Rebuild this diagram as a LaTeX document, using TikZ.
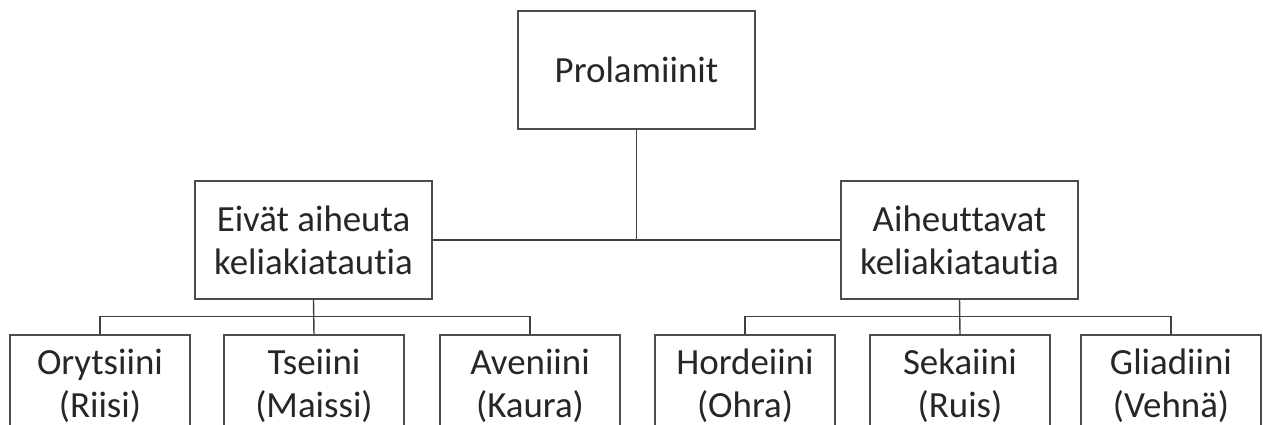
\documentclass[tikz,border=0pt]{standalone}
\usepackage{fontspec}
\setmainfont[Ligatures=NoCommon]{Carlito}
\begin{document}
\begin{tikzpicture}[x=0.02cm,y=-0.02cm,
    box/.style={draw=black!70,line width=0.8pt,minimum width=4.74cm,minimum height=2.36cm,
      align=center,inner sep=0pt,text=black!85,font=\fontsize{21}{24.5}\selectfont},
    leaf/.style={box,minimum width=3.6cm,minimum height=2.04cm},
    conn/.style={draw=black!75,line width=0.8pt}]
  \useasboundingbox (0,0) rectangle (1263,425);
  \clip (0,0) rectangle (1263,425);
  \node[box] (prol) at (636.5,70) {Prolamiinit};
  \node[box] (eivat) at (313.5,240) {Eivät aiheuta\\keliakiatautia};
  \node[box] (aiheut) at (959.5,240) {Aiheuttavat\\keliakiatautia};
  \foreach \n/\x/\t in {ory/100/{Orytsiini\\(Riisi)},tse/314/{Tseiini\\(Maissi)},ave/530/{Aveniini\\(Kaura)},
      hor/745/{Hordeiini\\(Ohra)},sek/960/{Sekaiini\\(Ruis)},gli/1171/{Gliadiini\\(Vehnä)}} {
    \node[leaf] (\n) at (\x,386) {\t};
  }
  \draw[conn] (prol.south) -- (prol.south |- eivat.east);
  \draw[conn] (eivat.east) -- (aiheut.west);
  \draw[conn] (eivat.south) -- (tse.north);
  \draw[conn] (ory.north) -- ++(0,-18) -| (ave.north);
  \draw[conn] (aiheut.south) -- (sek.north);
  \draw[conn] (hor.north) -- ++(0,-18) -| (gli.north);
\end{tikzpicture}
\end{document}
